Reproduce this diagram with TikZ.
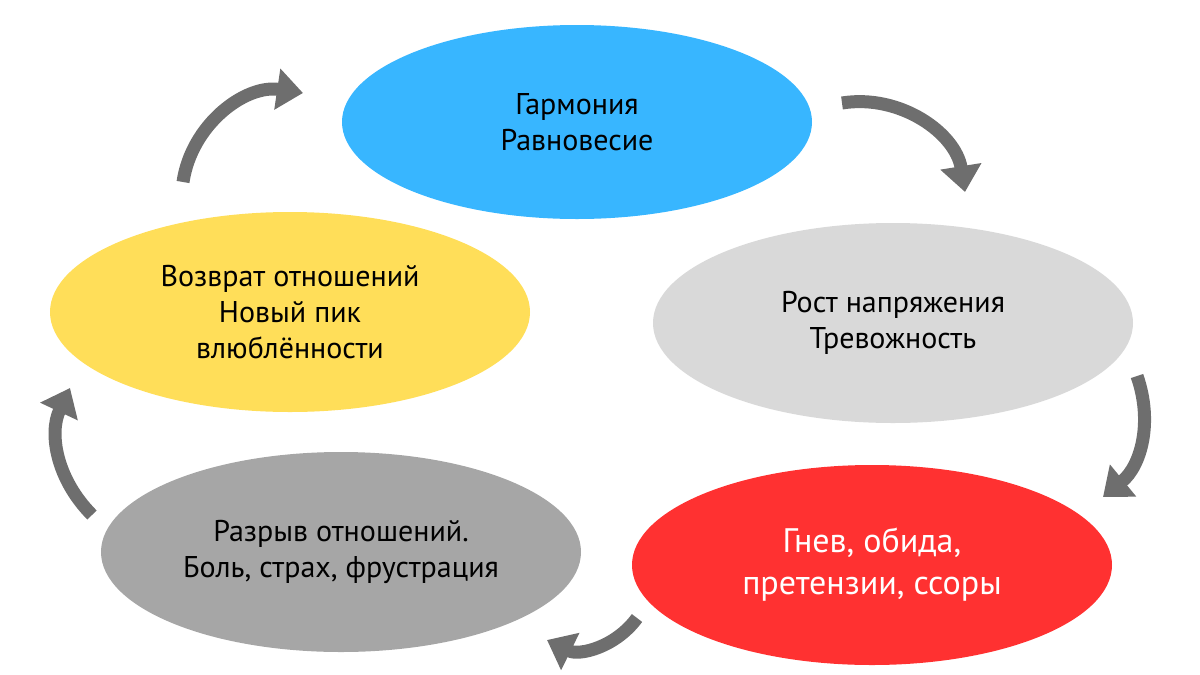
\documentclass[tikz,border=0pt]{standalone}
\usepackage{fontspec}
\setmainfont{PT Sans}
\usetikzlibrary{arrows.meta,shapes.geometric}
\definecolor{cblue}{HTML}{38B6FF}
\definecolor{clgray}{HTML}{D9D9D9}
\definecolor{cred}{HTML}{FF3131}
\definecolor{cdgray}{HTML}{A6A6A6}
\definecolor{cyel}{HTML}{FFDE59}
\definecolor{carr}{HTML}{6E6E6E}
\tikzset{
 ell/.style={ellipse, minimum width=480pt, minimum height=200pt, align=center, font=\fontsize{30}{36}\selectfont, inner sep=0pt},
 cyc/.style={draw=carr, line width=13pt, -{Triangle[length=26pt,width=40pt]}}
}
\begin{document}
\begin{tikzpicture}[x=1pt,y=-1pt]
\useasboundingbox (0,0) rectangle (1200,675);
\node[ell, fill=cblue, minimum width=470pt, minimum height=194pt] (a) at (577,122) {Гармония\\Равновесие};
\node[ell, fill=clgray] (b) at (893,323) {Рост напряжения\\Тревожность};
\node[ell, fill=cred, text=white, font=\fontsize{34}{42}\selectfont] (c) at (872,565) {Гнев, обида,\\претензии, ссоры};
\node[ell, fill=cdgray] (d) at (341,552) {Разрыв отношений.\\Боль, страх, фрустрация};
\node[ell, fill=cyel] (e) at (290,312) {Возврат отношений\\Новый пик\\влюблённости};
\coordinate (a1) at (842,103); \coordinate (a2) at (965,192);
\coordinate (b1) at (1137,376); \coordinate (b2) at (1103,497);
\coordinate (c1) at (637,618); \coordinate (c2) at (547,640);
\coordinate (d1) at (92,515); \coordinate (d2) at (70,388);
\coordinate (e1) at (183,182); \coordinate (e2) at (303,93);
\draw[cyc] (a1) to[bend left=45] (a2);
\draw[cyc] (b1) to[bend left=35] (b2);
\draw[cyc] (c1) to[bend left=40] (c2);
\draw[cyc] (d1) to[bend left=35] (d2);
\draw[cyc] (e1) to[bend left=45] (e2);
\end{tikzpicture}
\end{document}
